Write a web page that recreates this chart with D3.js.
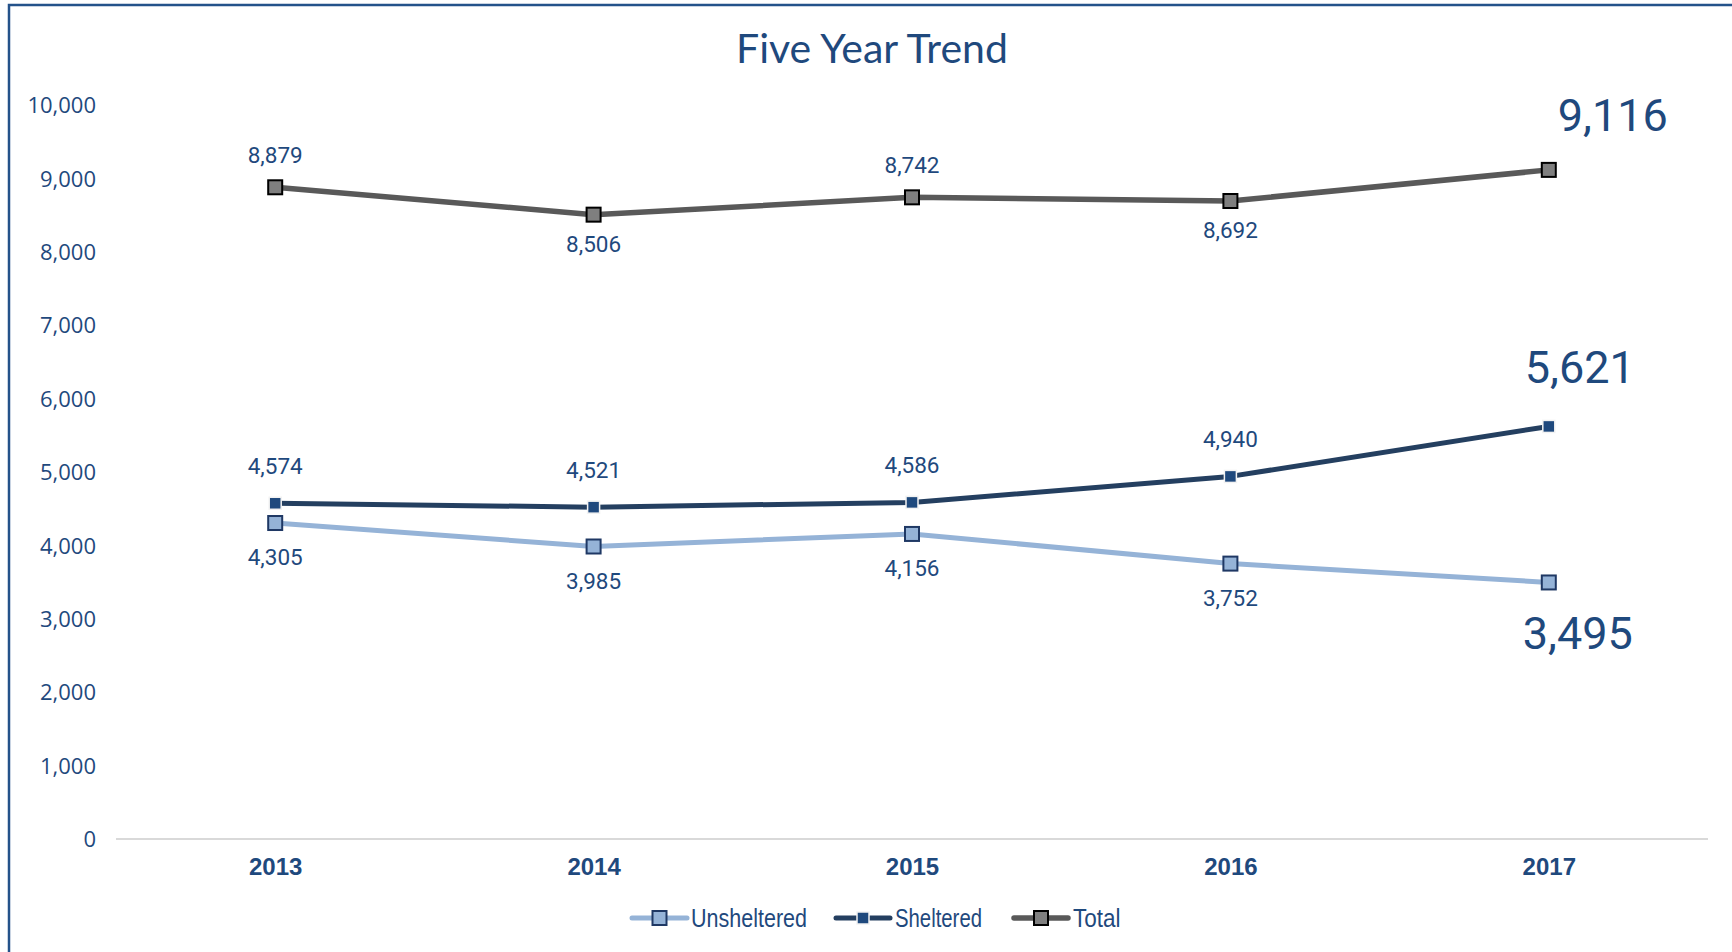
<!DOCTYPE html>
<html>
<head>
<meta charset="utf-8">
<script src="https://cdn.jsdelivr.net/npm/d3@7"></script>
<style>
  html, body { margin: 0; padding: 0; background: #ffffff; }
  svg { display: block; }
</style>
</head>
<body>
<svg id="chart" width="1732" height="952"></svg>
<script>
// ---- data ----
const years = ["2013", "2014", "2015", "2016", "2017"];
const unsheltered = [4305, 3985, 4156, 3752, 3495];
const sheltered = [4574, 4521, 4586, 4940, 5621];
const total = [8879, 8506, 8742, 8692, 9116];
const yTicks = [0, 1000, 2000, 3000, 4000, 5000, 6000, 7000, 8000, 9000, 10000];
const seriesNames = ["Unsheltered", "Sheltered", "Total"];
const title = "Five Year Trend";

// ---- layout ----
const W = 1732, H = 952;
const svg = d3.select("#chart");
const textColor = "#1F497D";

const x = d3.scalePoint().domain(years).range([116, 1708]).padding(0.5);
const y = d3.scaleLinear().domain([0, 10000]).range([839, 105]);

// outer border (extends past right/bottom edges like the reference)
svg.append("rect")
  .attr("x", 9).attr("y", 5)
  .attr("width", W + 20).attr("height", H + 20)
  .attr("fill", "none")
  .attr("stroke", "#24528A")
  .attr("stroke-width", 2.5);

// title
svg.append("text")
  .attr("x", 872).attr("y", 47)
  .attr("text-anchor", "middle")
  .attr("dominant-baseline", "central")
  .attr("font-family", "Lato, 'Open Sans', sans-serif")
  .attr("font-size", 41)
  .attr("fill", textColor)
  .text(title);

// y axis labels
const yAxis = d3.axisLeft(y).tickValues(yTicks).tickSize(0).tickPadding(0)
  .tickFormat(d3.format(","));
const gy = svg.append("g").attr("transform", "translate(96,0)").call(yAxis);
gy.select(".domain").remove();
gy.selectAll("text")
  .attr("font-family", "'Open Sans', sans-serif")
  .attr("font-size", 22)
  .attr("fill", textColor)
  .attr("dy", "0.35em");

// x axis
const xAxis = d3.axisBottom(x).tickSize(0).tickPadding(0);
const gx = svg.append("g").attr("transform", `translate(0,${y(0)})`).call(xAxis);
gx.select(".domain").attr("stroke", "#D9D9D9").attr("stroke-width", 2)
  .attr("d", `M116,0H1708`);
gx.selectAll("text")
  .attr("font-family", "'Liberation Sans', Arial, sans-serif")
  .attr("font-weight", "bold")
  .attr("font-size", 24)
  .attr("fill", textColor)
  .attr("y", 28)
  .attr("dy", "0.35em");

// series styles
const styles = {
  Unsheltered: { values: unsheltered, line: "#95B3D7", lw: 5, mFill: "#95B3D7", mStroke: "#1F3864", mSW: 2, mSize: 14,
                 labelPos: ["below", "below", "below", "below", "below"], above: -35, below: 34, big: { dx: 29, dy: 51 } },
  Sheltered:   { values: sheltered, line: "#243F60", lw: 5, mFill: "#1F497D", mStroke: "#F2F2F2", mSW: 1.5, mSize: 12,
                 labelPos: ["above", "above", "above", "above", "above"], above: -37, below: 31, big: { dx: 31, dy: -59 } },
  Total:       { values: total, line: "#595959", lw: 5.5, mFill: "#7F7F7F", mStroke: "#000000", mSW: 2, mSize: 14,
                 labelPos: ["above", "below", "above", "below", "above"], above: -32, below: 29, big: { dx: 64, dy: -54 } }
};

const lineGen = d3.line().x(d => x(d.year)).y(d => y(d.value));

const drawOrder = ["Unsheltered", "Sheltered", "Total"];
drawOrder.forEach(name => {
  const s = styles[name];
  const pts = years.map((yr, i) => ({ year: yr, value: s.values[i] }));
  svg.append("path")
    .datum(pts)
    .attr("fill", "none")
    .attr("stroke", s.line)
    .attr("stroke-width", s.lw)
    .attr("stroke-linejoin", "round")
    .attr("d", lineGen);
});

drawOrder.forEach(name => {
  const s = styles[name];
  const pts = years.map((yr, i) => ({ year: yr, value: s.values[i] }));
  svg.append("g").selectAll("rect")
    .data(pts).join("rect")
    .attr("x", d => x(d.year) - s.mSize / 2)
    .attr("y", d => y(d.value) - s.mSize / 2)
    .attr("width", s.mSize).attr("height", s.mSize)
    .attr("fill", s.mFill)
    .attr("stroke", s.mStroke)
    .attr("stroke-width", s.mSW);
});

const fmt = d3.format(",");
drawOrder.forEach(name => {
  const s = styles[name];
  const pts = years.map((yr, i) => ({ year: yr, value: s.values[i], i }));
  svg.append("g").selectAll("text")
    .data(pts).join("text")
    .attr("x", d => x(d.year) + (d.i === years.length - 1 ? s.big.dx : 0))
    .attr("y", d => {
      if (d.i === years.length - 1) return y(d.value) + s.big.dy;
      return y(d.value) + (s.labelPos[d.i] === "above" ? s.above : s.below);
    })
    .attr("text-anchor", "middle")
    .attr("dominant-baseline", "central")
    .attr("font-family", "Roboto, sans-serif")
    .attr("font-size", d => d.i === years.length - 1 ? 45 : 22.5)
    .attr("fill", textColor)
    .text(d => fmt(d.value));
});

// legend
const legendY = 918;
const legendItems = [
  { name: "Unsheltered", x0: 632, x1: 687, tx: 691, tw: 116 },
  { name: "Sheltered", x0: 836, x1: 890, tx: 895, tw: 87 },
  { name: "Total", x0: 1014, x1: 1068, tx: 1073, tw: 47.5 }
];
const lg = svg.append("g");
legendItems.forEach(it => {
  const s = styles[it.name];
  lg.append("line")
    .attr("x1", it.x0).attr("x2", it.x1)
    .attr("y1", legendY).attr("y2", legendY)
    .attr("stroke", s.line).attr("stroke-width", s.lw)
    .attr("stroke-linecap", "round");
  const cx = (it.x0 + it.x1) / 2;
  lg.append("rect")
    .attr("x", cx - s.mSize / 2).attr("y", legendY - s.mSize / 2)
    .attr("width", s.mSize).attr("height", s.mSize)
    .attr("fill", s.mFill).attr("stroke", s.mStroke).attr("stroke-width", s.mSW);
  lg.append("text")
    .attr("x", it.tx).attr("y", legendY)
    .attr("dominant-baseline", "central")
    .attr("font-family", "'Liberation Sans Narrow', 'Liberation Sans', Arial, sans-serif")
    .attr("font-size", 26)
    .attr("textLength", it.tw)
    .attr("lengthAdjust", "spacingAndGlyphs")
    .attr("fill", textColor)
    .text(it.name);
});
</script>
</body>
</html>
